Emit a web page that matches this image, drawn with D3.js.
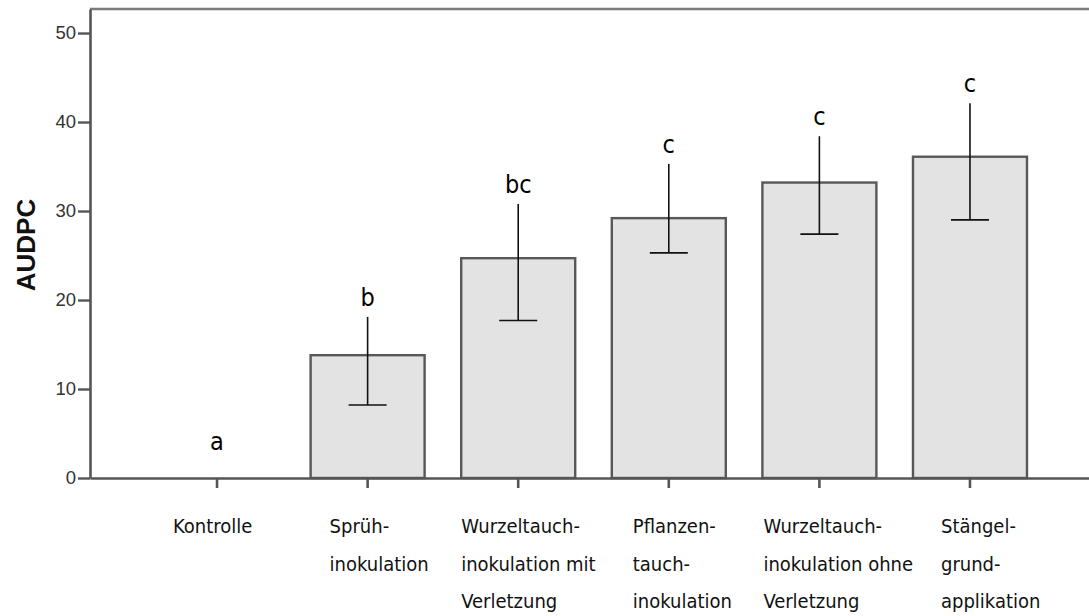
<!DOCTYPE html>
<html><head><meta charset="utf-8">
<script src="https://cdn.jsdelivr.net/npm/d3@7/dist/d3.min.js"></script>
<style>body{margin:0;background:#fff} svg{display:block}</style>
</head><body><svg id="c" width="1089" height="616"></svg>
<script>
// ---- data ----
const categories = ["Kontrolle", "Sprühinokulation", "Wurzeltauchinokulation mit Verletzung", "Pflanzentauchinokulation", "Wurzeltauchinokulation ohne Verletzung", "Stängelgrundapplikation"];
const categoryLabelLines = [
  ["Kontrolle"],
  ["Sprüh-", "inokulation"],
  ["Wurzeltauch-", "inokulation mit", "Verletzung"],
  ["Pflanzen-", "tauch-", "inokulation"],
  ["Wurzeltauch-", "inokulation ohne", "Verletzung"],
  ["Stängel-", "grund-", "applikation"]
];
const audpc = [0, 13.8, 24.7, 29.2, 33.2, 36.1];
const errLow = [null, 8.2, 17.7, 25.3, 27.4, 29.0];
const errHigh = [null, 18.1, 30.8, 35.3, 38.4, 42.1];
const letters = ["a", "b", "bc", "c", "c", "c"];
const yTicks = [0, 10, 20, 30, 40, 50];
const yAxisTitle = "AUDPC";

// ---- layout ----
const W = 1089, H = 616;
const plot = {left: 90, right: 1097, top: 9, bottom: 478};
const labelDx = [-44, -38, -57, -36, -56, -29];
const labelFont = "'DejaVu Sans', Verdana, sans-serif";

const svg = d3.select("#c");
const x = d3.scaleBand().domain(categories).range([plot.left, plot.right]).paddingInner(0.243).paddingOuter(0.465);
const y = d3.scaleLinear().domain([0, 52.7]).range([plot.bottom, plot.top]);
const cx = c => x(c) + x.bandwidth() / 2;

// bars
svg.append("g").selectAll("rect").data(categories.map((c, i) => ({c, v: audpc[i]})).filter(d => d.v > 0))
  .join("rect")
  .attr("x", d => x(d.c)).attr("width", x.bandwidth())
  .attr("y", d => y(d.v)).attr("height", d => y(0) - y(d.v))
  .attr("fill", "#e3e3e3").attr("stroke", "#585858").attr("stroke-width", 2.4);

// error bars
const eb = svg.append("g").attr("stroke", "#111").attr("stroke-width", 1.6);
categories.forEach((c, i) => {
  if (errLow[i] == null) return;
  eb.append("line").attr("x1", cx(c)).attr("x2", cx(c)).attr("y1", y(errLow[i])).attr("y2", y(errHigh[i]));
  eb.append("line").attr("x1", cx(c) - 19).attr("x2", cx(c) + 19).attr("y1", y(errLow[i])).attr("y2", y(errLow[i]));
});

// top frame line
svg.append("line").attr("x1", plot.left).attr("x2", plot.right).attr("y1", y.range()[1]).attr("y2", y.range()[1])
  .attr("stroke", "#7a7a7a").attr("stroke-width", 2.5);

// y axis
const ya = svg.append("g").attr("transform", `translate(${plot.left},0)`)
  .call(d3.axisLeft(y).tickValues(yTicks).tickSize(12).tickSizeOuter(0).tickPadding(2));
ya.select(".domain").attr("stroke", "#555").attr("stroke-width", 2.6);
ya.selectAll(".tick line").attr("stroke", "#555").attr("stroke-width", 2.4);
ya.selectAll(".tick text").attr("font-family", "'Liberation Sans', Arial, sans-serif").attr("font-size", 18.5).attr("fill", "#333");

// x axis
const xa = svg.append("g").attr("transform", `translate(0,${plot.bottom})`)
  .call(d3.axisBottom(x).tickSize(10).tickSizeOuter(0).tickFormat(""));
xa.select(".domain").attr("stroke", "#555").attr("stroke-width", 2.6);
xa.selectAll(".tick line").attr("stroke", "#555").attr("stroke-width", 2.6);

// category labels
const lab = svg.append("g").attr("font-family", labelFont).attr("font-stretch", "condensed").attr("font-size", 20).attr("fill", "#111");
categories.forEach((c, i) => {
  const t = lab.append("text").attr("x", cx(c) + labelDx[i]).attr("y", plot.bottom + 55);
  categoryLabelLines[i].forEach((s, k) => t.append("tspan").attr("x", cx(c) + labelDx[i]).attr("dy", k ? 37.5 : 0).text(s));
});

// significance letters
svg.append("g").attr("font-family", labelFont).attr("font-stretch", "condensed").attr("font-size", 25).attr("fill", "#000").attr("text-anchor", "middle")
  .selectAll("text").data(categories).join("text")
  .attr("x", cx)
  .attr("y", (c, i) => errHigh[i] == null ? y(audpc[i]) - 28 : y(errHigh[i]) - 11)
  .text((c, i) => letters[i]);

// y axis title
svg.append("text").attr("transform", `translate(35,245) rotate(-90)`).attr("text-anchor", "middle")
  .attr("font-family", "'Liberation Sans', Arial, sans-serif").attr("font-weight", "bold").attr("font-size", 26).attr("fill", "#111")
  .text(yAxisTitle);
</script></body></html>
